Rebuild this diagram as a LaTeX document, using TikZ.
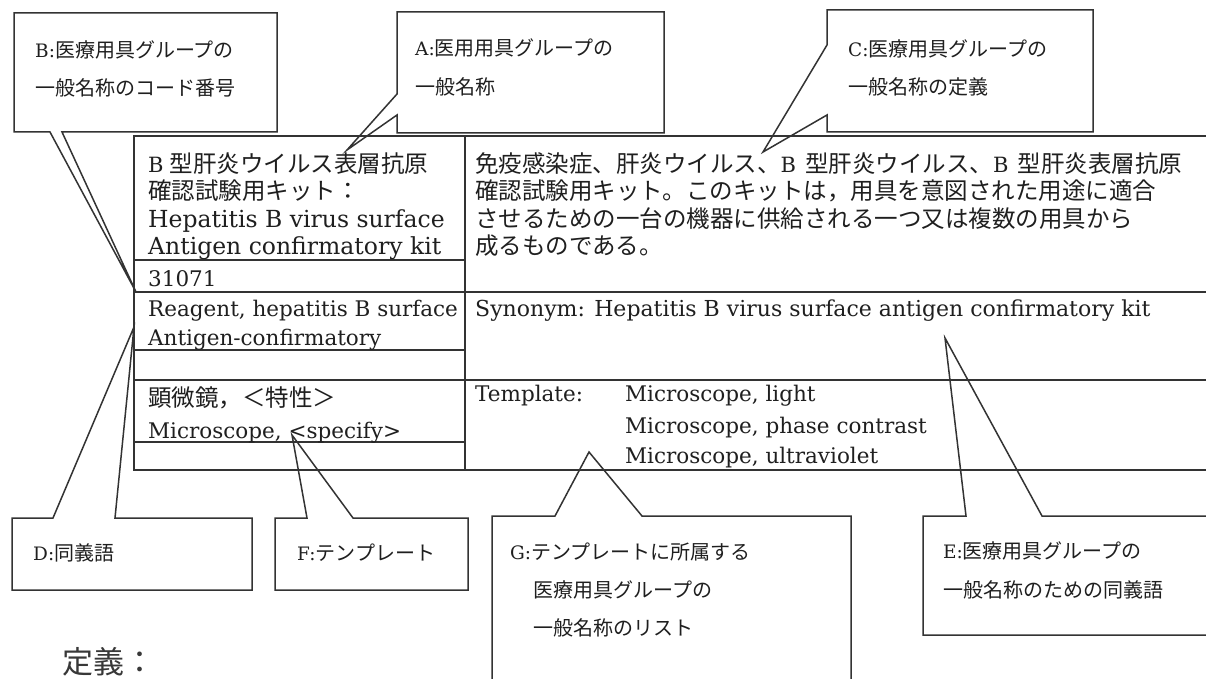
\documentclass[tikz,border=0pt]{standalone}
\usepackage{fontspec}
\setmainfont{DejaVu Serif}
\newfontfamily\jp{Noto Sans CJK JP}
\newcommand\latn[1]{{\rmfamily\fontsize{18.5}{20}\selectfont #1}}
\newcommand\bigB{{\rmfamily\fontsize{21}{27}\selectfont B}}
\begin{document}
\begin{tikzpicture}[x=1pt,y=-1pt,
  ln/.style={line width=1.5pt, draw=black!80, line join=miter},
  tx/.style={anchor=base west, inner sep=0pt, font=\fontsize{21.5}{27}\selectfont, text=black!88},
  wide/.style={font=\fontsize{23.5}{27}\selectfont},
  tj/.style={anchor=base west, inner sep=0pt, font=\fontsize{23.5}{27}\jp, text=black!88},
  cl/.style={anchor=base west, inner sep=0pt, font=\fontsize{20}{24}\jp, text=black!88},
  big/.style={anchor=base west, inner sep=0pt, font=\fontsize{31}{34}\jp, text=black!78}]
\useasboundingbox (0,0) rectangle (1206,679);
\clip (0,0) rectangle (1206,679);
\fill[white] (0,0) rectangle (1206,679);

% ---------- table ----------
\coordinate (TL) at (134,136);
\coordinate (BL) at (134,470);
\draw[ln] (1215,136) -- (TL) -- (BL) -- (1215,470);
\draw[ln] (465,136) -- (465,470);
\draw[ln] (134,260) -- (465,260);
\draw[ln] (134,350) -- (465,350);
\draw[ln] (134,442) -- (465,442);
\draw[ln] (134,292) -- (1215,292);
\draw[ln] (134,380) -- (1215,380);

% left column texts
\node[tj] (n1) at (148,173) {\bigB\hspace{6pt}型肝炎ウイルス表層抗原};
\node[tj] (n2) at (148,200) {確認試験用キット：};
\node[tx,wide] (n3) at (148,227) {Hepatitis B virus surface};
\node[tx,wide] (n4) at (148,254) {Antigen confirmatory kit};
\node[tx] (code) at (148,286) {31071};
\node[tx] (s1) at (148,316) {Reagent, hepatitis B surface};
\node[tx] (s2) at (148,345) {Antigen-confirmatory};
\node[tj] (t1) at (148,406) {顕微鏡，＜特性＞};
\node[tx] (t2) at (148,438) {Microscope, <specify>};

% right column texts
\node[tj] (d1) at (475,173) {免疫感染症、肝炎ウイルス、\bigB\hspace{9pt}型肝炎ウイルス、\bigB\hspace{9pt}型肝炎表層抗原};
\node[tj] (d2) at (475,200) {確認試験用キット。このキットは，用具を意図された用途に適合};
\node[tj] (d3) at (475,227) {させるための一台の機器に供給される一つ又は複数の用具から};
\node[tj] (d4) at (475,254) {成るものである。};
\node[tx,font=\fontsize{22}{27}\selectfont] (syn) at (475,316) {Synonym: Hepatitis B virus surface antigen confirmatory kit};
\node[tx] (tpl) at (475,401) {Template:};
\node[tx] (m1) at (625,401) {Microscope, light};
\node[tx] (m2) at (625,433) {Microscope, phase contrast};
\node[tx] (m3) at (625,463) {Microscope, ultraviolet};

% ---------- callouts ----------
% B
\coordinate (Btip) at (136,292);
\draw[ln] (14,13) -- (277,13) -- (277,132) -- (62,132) -- (Btip) -- (50,132) -- (14,132) -- cycle;
\node[cl] (Bl1) at (35,58) {\latn{B:}医療用具グループの};
\node[cl] (Bl2) at (35,96) {一般名称のコード番号};
% A
\coordinate (Atip) at (347,150);
\draw[ln] (397,12) -- (664,12) -- (664,133) -- (397,133) -- (397,115) -- (Atip) -- (397,94) -- cycle;
\node[cl] (Al1) at (415,56) {\latn{A:}医用用具グループの};
\node[cl] (Al2) at (415,95) {一般名称};
% C
\coordinate (Ctip) at (763,152);
\draw[ln] (827,10) -- (1093,10) -- (1093,132) -- (827,132) -- (827,115) -- (Ctip) -- (827,45) -- cycle;
\node[cl] (Cl1) at (848,57) {\latn{C:}医療用具グループの};
\node[cl] (Cl2) at (848,95) {一般名称の定義};
% D
\coordinate (Dtip) at (134,327);
\draw[ln] (12,518) -- (53,518) -- (Dtip) -- (115,518) -- (252,518) -- (252,590) -- (12,590) -- cycle;
\node[cl] (Dl) at (33,560) {\latn{D:}同義語};
% F
\coordinate (Ftip) at (292,435);
\draw[ln] (275,518) -- (307,518) -- (Ftip) -- (353,518) -- (468,518) -- (468,590) -- (275,590) -- cycle;
\node[cl] (Fl) at (297,560) {\latn{F:}テンプレート};
% G
\coordinate (Gtip) at (589,452);
\draw[ln] (492,516) -- (555,516) -- (Gtip) -- (642,516) -- (851,516) -- (851,700) -- (492,700) -- cycle;
\node[cl] (Gl1) at (510,559) {\latn{G:}テンプレートに所属する};
\node[cl] (Gl2) at (533,597) {医療用具グループの};
\node[cl] (Gl3) at (533,635) {一般名称のリスト};
% E
\coordinate (Etip) at (945,338);
\draw[ln] (923,516) -- (966,516) -- (Etip) -- (1042,516) -- (1215,516) -- (1215,635) -- (923,635) -- cycle;
\node[cl] (El1) at (943,558) {\latn{E:}医療用具グループの};
\node[cl] (El2) at (943,597) {一般名称のための同義語};

% bottom heading
\node[big] (def) at (62,673) {定義：};
\end{tikzpicture}
\end{document}
